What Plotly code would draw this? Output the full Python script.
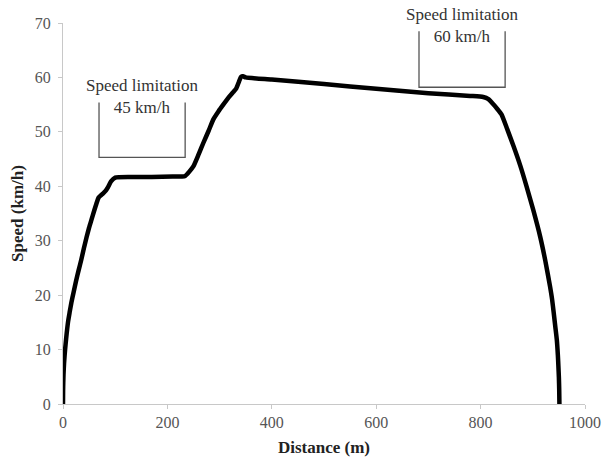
import plotly.graph_objects as go

# Speed profile (distance in m, speed in km/h)
distance = [0, 0.2, 0.5, 1, 2, 3, 4, 6, 8, 10, 13, 16, 20, 25, 30, 35, 40, 45, 50, 55, 60, 64, 68,
            72, 77, 82, 86, 92, 100,
            130, 170, 210, 228, 234, 242, 250, 260, 269, 279, 288, 298, 307, 317, 326, 332, 337, 341, 345,
            350, 400, 500, 600, 700, 780, 805, 815, 824, 832, 840, 851, 863, 876, 888, 901, 914,
            924, 933, 937, 940, 943, 946, 948, 949, 950, 950.6, 951]
speed = [0, 2.5, 3.9, 5.5, 7.4, 8.8, 10, 12, 13.8, 15.3, 17.0, 18.6, 20.4, 22.6, 24.6, 26.5, 28.6, 30.6,
         32.4, 34.0, 35.6, 36.8, 37.9,
         38.3, 38.7, 39.2, 39.8, 40.9, 41.6,
         41.7, 41.7, 41.8, 41.8, 41.9, 42.7, 43.7, 45.9, 48.0, 50.2, 52.3,
         53.8, 55.0, 56.3, 57.3, 58.0, 59.2, 60.1, 60.2,
         60.0, 59.6, 58.8, 57.9, 57.1, 56.6, 56.4, 56.0, 55.1, 54.2,
         53.2, 50.5, 47.4, 43.8, 40.0, 35.6, 30.8, 26.3, 21.6, 19.2, 16.8, 14.3, 11.8, 9.0, 7.0, 4.8, 2.6, 0]

# Speed-limitation brackets
limit_labels = ["Speed limitation<br>45 km/h", "Speed limitation<br>60 km/h"]
limit_start = [69, 682]
limit_end = [234, 847]
limit_bottom = [45.3, 58.2]
limit_top = [55.4, 68.5]
label_bottom = [52.6, 65.6]

x_ticks = [0, 200, 400, 600, 800, 1000]
y_ticks = [0, 10, 20, 30, 40, 50, 60, 70]

fig = go.Figure()
fig.add_trace(go.Scatter(x=distance, y=speed, mode="lines",
                         line=dict(color="black", width=4.5, shape="spline", smoothing=0.5, simplify=False),
                         showlegend=False, hoverinfo="skip", cliponaxis=False))

for lbl, x0, x1, yb, yt, ly in zip(limit_labels, limit_start, limit_end, limit_bottom, limit_top, label_bottom):
    fig.add_shape(type="path",
                  path=f"M {x0},{yt} L {x0},{yb} L {x1},{yb} L {x1},{yt}",
                  line=dict(color="#555555", width=1.3), xref="x", yref="y")
    fig.add_annotation(x=(x0 + x1) / 2, y=ly, text=lbl, showarrow=False, xref="x", yref="y",
                       yanchor="bottom", font=dict(family="Liberation Serif", size=17, color="#333333"),
                       align="center", bgcolor="rgba(0,0,0,0)", borderpad=0)

fig.update_layout(
    width=602, height=457,
    margin=dict(l=63, r=17, t=23, b=53),
    paper_bgcolor="white", plot_bgcolor="white",
    font=dict(family="Liberation Serif", size=14, color="#444444"),
    xaxis=dict(range=[0, 1000], tickvals=x_ticks, showgrid=False, zeroline=False, automargin=False,
               showline=True, linecolor="#c8c8c8", linewidth=1.3, ticks="outside",
               tickcolor="#c8c8c8", ticklen=4,
               tickfont=dict(family="Liberation Serif", size=16, color="#555555"),
               title=dict(text="<b>Distance (m)</b>", standoff=15,
                          font=dict(family="Liberation Serif", size=17, color="#222222"))),
    yaxis=dict(range=[0, 70], tickvals=y_ticks, showgrid=False, zeroline=False, automargin=False,
               showline=True, linecolor="#c8c8c8", linewidth=1.3, ticks="outside",
               tickcolor="#c8c8c8", ticklen=4, ticklabelstandoff=4,
               tickfont=dict(family="Liberation Serif", size=16, color="#555555"),
               title=dict(text="<b>Speed (km/h)</b>", standoff=6,
                          font=dict(family="Liberation Serif", size=17, color="#222222"))),
)

fig.write_html("out.html", config={"displayModeBar": False},
               post_script="document.body.style.margin='0px';")
